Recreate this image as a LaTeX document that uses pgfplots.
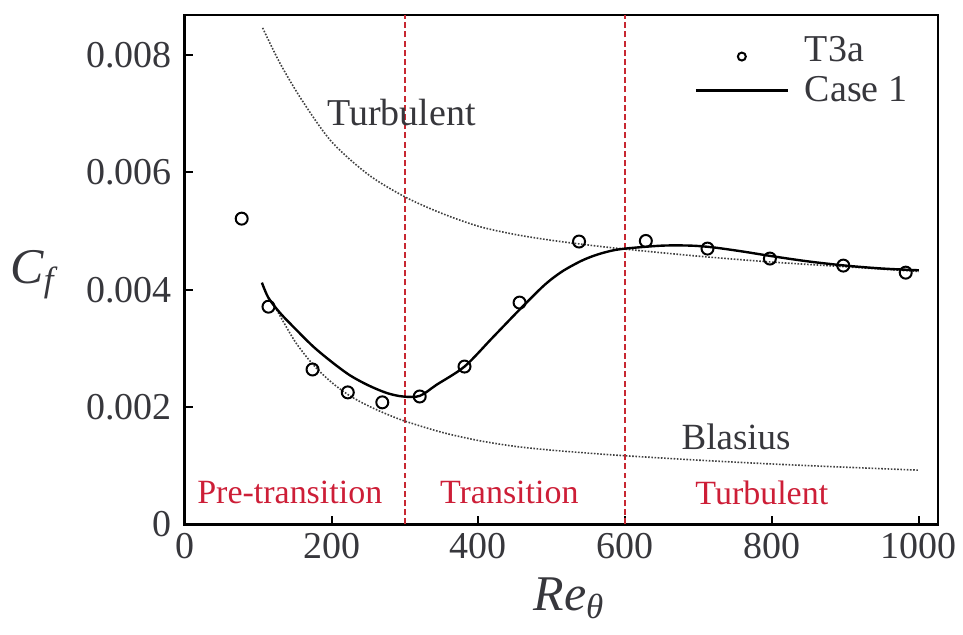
\documentclass[border=0pt]{standalone}
\usepackage{fontspec}
\setmainfont{Liberation Serif}
\usepackage{pgfplots}
\pgfplotsset{compat=1.18}
\definecolor{regred}{RGB}{205,30,55}
\definecolor{lineRed}{RGB}{200,40,50}
\definecolor{tickgray}{RGB}{55,55,60}
\pgfplotsset{
  legcirc/.style={legend image code/.code={\draw[##1, mark size=2pt, line width=1pt] plot coordinates {(23pt,-3pt)};}},
  legline/.style={legend image code/.code={\draw[##1] (0pt,0pt) -- (46pt,0pt);}},
}
\begin{document}
\begin{tikzpicture}
\useasboundingbox (-92.5pt,-55pt) rectangle (389.5pt,262.5pt);
\begin{axis}[
  scale only axis,
  width=377pt, height=255pt,
  xmin=0, xmax=1026, ymin=0, ymax=0.00868,
  axis line style={line width=1.4pt},
  tick style={line width=1pt, black},
  major tick length=4pt,
  tick align=inside,
  xtick pos=bottom, ytick pos=left,
  xtick={0,200,400,600,800,1000},
  xticklabels={0,200,400,600,800,1000},
  ytick={0,0.002,0.004,0.006,0.008},
  yticklabels={0,0.002,0.004,0.006,0.008},
  scaled y ticks=false, scaled x ticks=false,
  ticklabel style={font=\fontsize{19}{21}\selectfont, text=tickgray},
  yticklabel style={xshift=-3pt},
  xticklabel style={yshift=-1pt},
  xlabel={\textit{Re\textsubscript{θ}}},
  ylabel={\textit{C\textsubscript{f}}},
  label style={font=\fontsize{25}{28}\selectfont, text=tickgray},
  xlabel style={at={(axis description cs:0.51,-0.145)}, anchor=center},
  ylabel style={at={(axis description cs:-0.202,0.49)}, anchor=center, rotate=-90},
  legend style={at={(axis cs:694,0.00832)}, anchor=north west, draw=none, fill=none,
    inner sep=0pt, row sep=6pt, column sep=8pt,
    nodes={inner sep=0pt, anchor=west},
    font=\fontsize{19}{21}\selectfont, text=tickgray},
  legend cell align=left,
]
% red dashed boundaries
\addplot[lineRed, line width=0.9pt, dash pattern=on 3pt off 1.6pt, forget plot] coordinates {(300,0) (300,0.00868)};
\addplot[lineRed, line width=0.9pt, dash pattern=on 3pt off 1.6pt, forget plot] coordinates {(600,0) (600,0.00868)};
% Turbulent correlation (dotted)
\addplot[black!75, line width=0.8pt, dash pattern=on 0.8pt off 0.8pt, smooth, forget plot] coordinates {
(106,0.00846) (130,0.00785) (160,0.00722) (200,0.00652) (250,0.00596) (300,0.00558) (350,0.00530)
(400,0.00508) (450,0.00494) (500,0.00484) (550,0.00476) (600,0.00469) (700,0.00457) (800,0.00447)
(900,0.00439) (1000,0.00431)};
% Blasius (dotted)
\addplot[black!75, line width=0.8pt, dash pattern=on 0.8pt off 0.8pt, smooth, forget plot] coordinates {
(125,0.00366) (150,0.00312) (175,0.00272) (200,0.00242) (225,0.00219) (250,0.00202) (275,0.00188)
(300,0.00176) (350,0.00157) (400,0.00143) (450,0.00133) (500,0.001265) (550,0.001215) (600,0.00117)
(700,0.001095) (800,0.00103) (900,0.000975) (1000,0.000925)};
% T3a data
\addplot[only marks, mark=o, mark size=3pt, line width=1pt, black, legcirc] coordinates {
(77.5,0.00521) (114,0.00371) (174,0.00264) (222,0.00225) (269,0.00208) (320,0.00218) (381,0.00269)
(456,0.00378) (537,0.00482) (628,0.00483) (712,0.00470) (797,0.00453) (897,0.00441) (982,0.00429)};
\addlegendentry{T3a}
% Case 1
\addplot[black, line width=1.2pt, smooth, legline] coordinates {
(105,0.00412) (114,0.00386) (130,0.00360) (150,0.00334) (175,0.00303) (200,0.00277) (225,0.00254)
(250,0.00237) (275,0.00224) (297,0.00218) (320,0.00219) (343,0.00238) (381,0.00269) (419,0.00318)
(456,0.00366) (490,0.00408) (514,0.00431) (540,0.00449) (560,0.00459) (580,0.00466) (600,0.00470) (650,0.00475)
(690,0.00475) (720,0.00472) (760,0.00465) (800,0.00457) (850,0.00448) (900,0.00441) (950,0.00436) (1000,0.00433)};
\addlegendentry{Case 1}
% annotations
\node[font=\fontsize{19}{21}\selectfont, text=tickgray] at (axis cs:295,0.00701) {Turbulent};
\node[font=\fontsize{18.5}{20}\selectfont, text=tickgray] at (axis cs:751,0.00150) {Blasius};
\node[font=\fontsize{17}{19}\selectfont, text=regred] at (axis cs:143,0.00054) {Pre-transition};
\node[font=\fontsize{17}{19}\selectfont, text=regred] at (axis cs:442,0.00054) {Transition};
\node[font=\fontsize{17}{19}\selectfont, text=regred] at (axis cs:786,0.00054) {Turbulent};
\end{axis}
\end{tikzpicture}
\end{document}
